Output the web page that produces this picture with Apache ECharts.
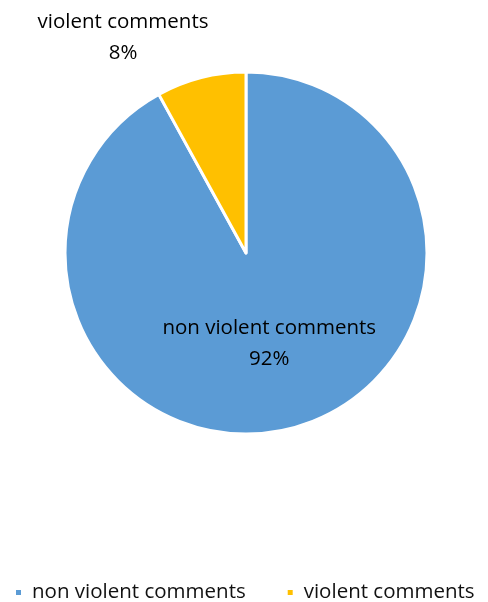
<!DOCTYPE html>
<html><head><meta charset="utf-8">
<script src="https://cdn.jsdelivr.net/npm/echarts@6/dist/echarts.min.js"></script>
<style>html,body{margin:0;padding:0;background:#fff}#c{width:488px;height:602px}</style>
</head><body><div id="c"></div>
<script>
const categories = ["non violent comments", "violent comments"];
const values = [92, 8];
const colors = ["#5B9BD5", "#FFC000"];
const chart = echarts.init(document.getElementById('c'));
chart.setOption({
  animation: false,
  textStyle: {fontFamily: "Open Sans"},
  legend: {
    top: 577, left: 9, icon: 'rect', itemWidth: 7, itemHeight: 7, itemGap: 40,
    textStyle: {fontSize: 20.5, color: '#111', fontFamily: 'Open Sans', padding: [0, 0, 0, 5]},
    data: categories
  },
  series: [{
    type: 'pie',
    center: [246, 253],
    radius: 181,
    startAngle: 90,
    clockwise: true,
    itemStyle: {borderColor: '#fff', borderWidth: 3},
    label: {
      formatter: '{b}\n{d}%', fontSize: 20.5, lineHeight: 31, color: '#000', fontFamily: 'Open Sans', align: 'center',
      overflow: 'none'
    },
    labelLine: {show: false},
    labelLayout: function (p) {
      if (p.dataIndex === 1) return {x: 123, y: 38, align: 'center', verticalAlign: 'middle'};
      return {};
    },
    data: categories.map((n, i) => ({
      name: n, value: values[i], itemStyle: {color: colors[i]},
      label: {position: i === 0 ? 'inside' : 'outside', overflow: 'none', width: 300}
    }))
  }]
});
</script></body></html>
